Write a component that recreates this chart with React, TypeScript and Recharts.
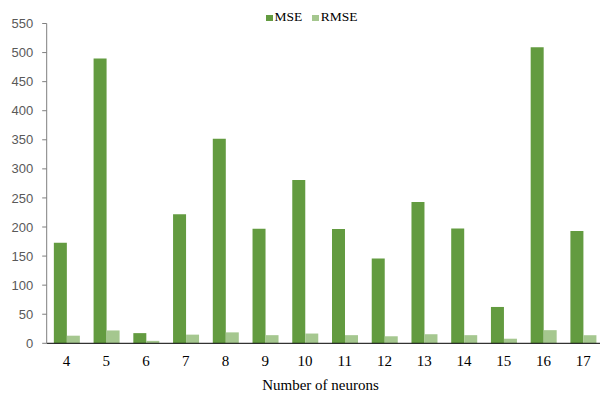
import { BarChart, Bar, XAxis, YAxis, Legend, Label } from "recharts";

const neurons = ["4", "5", "6", "7", "8", "9", "10", "11", "12", "13", "14", "15", "16", "17"];
const mse = [173, 490, 17.5, 222, 352, 197, 281, 196.5, 146, 243, 197.5, 62.5, 509, 193];
const rmse = [13.1, 22.1, 4.2, 14.9, 18.8, 14.0, 16.8, 14.0, 12.1, 15.6, 14.0, 7.9, 22.6, 13.9];
const yTicks = [0, 50, 100, 150, 200, 250, 300, 350, 400, 450, 500, 550];

const MSE_COLOR = "#639b40";
const RMSE_COLOR = "#a5c78f";
const SERIF = '"Liberation Serif", "Times New Roman", serif';

const data = neurons.map((n, i) => ({ name: n, mse: mse[i], rmse: rmse[i] }));

function LegendBox() {
  const item = (color: string, text: string, gap: number) => (
    <span style={{ display: "inline-flex", alignItems: "center", marginRight: gap }}>
      <span style={{ width: 6.5, height: 6.5, background: color, marginRight: 2, marginTop: 2 }} />
      <span>{text}</span>
    </span>
  );
  return (
    <div style={{ fontFamily: SERIF, fontSize: 13.5, color: "#000", lineHeight: "16px", whiteSpace: "nowrap" }}>
      {item(MSE_COLOR, "MSE", 10)}
      {item(RMSE_COLOR, "RMSE", 0)}
    </div>
  );
}

export default function App() {
  return (
    <div style={{ position: "fixed", top: 0, left: 0, width: 600, height: 396, overflow: "hidden", background: "#fff" }}>
      <BarChart
        width={610}
        height={396}
        data={data}
        margin={{ top: 23.5, right: 7, bottom: 0, left: 0 }}
        barCategoryGap="18%"
        barGap={0}
      >
        <XAxis
          dataKey="name"
          height={52.7}
          axisLine={{ stroke: "#000", strokeWidth: 1 }}
          tickLine={false}
          tickSize={6}
          tickMargin={5.7}
          tick={{ fontFamily: SERIF, fontSize: 15, fill: "#000" }}
        >
          <Label
            value="Number of neurons"
            position="insideBottom"
            offset={6}
            dx={-4.4}
            style={{ fontFamily: SERIF, fontSize: 15, fill: "#000" }}
          />
        </XAxis>
        <YAxis
          width={46.7}
          domain={[0, 550]}
          ticks={yTicks}
          interval={0}
          axisLine={{ stroke: "#7f7f7f" }}
          tickLine={{ stroke: "#7f7f7f" }}
          tickSize={4.5}
          tickMargin={9}
          tick={{ fontFamily: '"Liberation Sans", Arial, sans-serif', fontSize: 13, fill: "#595959" }}
        />
        <Legend
          verticalAlign="middle"
          content={() => <LegendBox />}
          wrapperStyle={{ top: 9, left: 266, width: 120, height: 16 }}
        />
        <Bar dataKey="mse" name="MSE" fill={MSE_COLOR} isAnimationActive={false} />
        <Bar dataKey="rmse" name="RMSE" fill={RMSE_COLOR} isAnimationActive={false} />
      </BarChart>
    </div>
  );
}
